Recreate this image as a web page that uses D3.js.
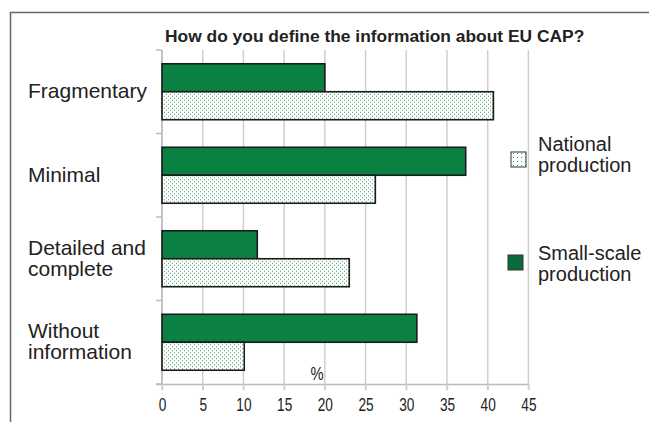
<!DOCTYPE html>
<html>
<head>
<meta charset="utf-8">
<script src="https://cdn.jsdelivr.net/npm/d3@7"></script>
<style>
  html, body { margin: 0; padding: 0; background: #fff; }
  text { font-family: Arial, "Liberation Sans", sans-serif; fill: #222; }
</style>
</head>
<body>
<svg id="chart" width="649" height="422"></svg>
<script>
const title = "How do you define the information about EU CAP?";
const categories = ["Fragmentary", "Minimal", "Detailed and complete", "Without information"];
const categoryLines = [["Fragmentary"], ["Minimal"], ["Detailed and", "complete"], ["Without", "information"]];
const seriesNames = ["Small-scale production", "National production"];
const smallScale = [20.0, 37.3, 11.7, 31.3];
const national = [40.7, 26.2, 23.0, 10.1];
const xTicks = [0, 5, 10, 15, 20, 25, 30, 35, 40, 45];
const axisUnit = "%";

const svg = d3.select("#chart");
const defs = svg.append("defs");
const pat = defs.append("pattern").attr("id", "dots").attr("patternUnits", "userSpaceOnUse")
  .attr("width", 4).attr("height", 4);
pat.append("rect").attr("width", 4).attr("height", 4).attr("fill", "#fff");
pat.append("rect").attr("x", 0).attr("y", 0).attr("width", 1).attr("height", 1).attr("fill", "#3a9d62");
pat.append("rect").attr("x", 2).attr("y", 2).attr("width", 1).attr("height", 1).attr("fill", "#3a9d62");

const pat2 = defs.append("pattern").attr("id", "dotsLegend").attr("patternUnits", "userSpaceOnUse")
  .attr("width", 4).attr("height", 4);
pat2.append("rect").attr("width", 4).attr("height", 4).attr("fill", "#fff");
pat2.append("rect").attr("x", 1).attr("y", 1).attr("width", 1).attr("height", 1).attr("fill", "#2e9a5a");

// outer frame (top and left only)
svg.append("path").attr("d", "M10.5,422 V12.5 H649").attr("fill", "none")
  .attr("stroke", "#666").attr("stroke-width", 1.5);

const pLeft = 162, pRight = 528.4, pTop = 50, pBottom = 384;
const x = d3.scaleLinear().domain([0, 45]).range([pLeft, pRight]);
const y = d3.scaleBand().domain(categories).range([pTop, pBottom]).paddingInner(0.33).paddingOuter(0.165);
const sub = d3.scaleBand().domain(seriesNames).range([0, y.bandwidth()]);

// gridlines
svg.append("g").selectAll("line").data(xTicks).join("line")
  .attr("x1", d => x(d)).attr("x2", d => x(d))
  .attr("y1", pTop).attr("y2", pBottom + 6)
  .attr("stroke", "#cfcfcf").attr("stroke-width", 1.5);

// y axis line + band ticks
svg.append("line").attr("x1", pLeft).attr("x2", pLeft).attr("y1", pTop).attr("y2", pBottom)
  .attr("stroke", "#bbb").attr("stroke-width", 1.5);
const step = (pBottom - pTop) / categories.length;
const bounds = categories.map((c, i) => pTop + i * step).concat([pBottom]);
svg.append("g").selectAll("line").data(bounds).join("line")
  .attr("x1", pLeft - 6).attr("x2", pLeft).attr("y1", d => d).attr("y2", d => d)
  .attr("stroke", "#bbb").attr("stroke-width", 1.5);

// x axis
const xAxis = svg.append("g").attr("transform", `translate(0,${pBottom})`)
  .call(d3.axisBottom(x).tickValues(xTicks).tickSize(6).tickPadding(9).tickFormat(d3.format("d")));
xAxis.select(".domain").attr("stroke", "#bbb").attr("stroke-width", 1.5).attr("d", `M${pLeft - 6},0.5H${pRight + 1}`);
xAxis.selectAll(".tick line").attr("stroke", "#cfcfcf").attr("stroke-width", 1.5);
xAxis.selectAll(".tick text").attr("font-size", 17.5).attr("fill", "#333")
  .attr("transform", "scale(0.78,1)").attr("font-family", "Arial, 'Liberation Sans', sans-serif");

// bars
const rows = categories.map((c, i) => ({c, vals: [smallScale[i], national[i]]}));
const groups = svg.append("g").selectAll("g").data(rows).join("g")
  .attr("transform", d => `translate(0,${y(d.c)})`);
groups.selectAll("rect").data(d => d.vals.map((v, j) => ({v, s: seriesNames[j]}))).join("rect")
  .attr("x", x(0)).attr("y", d => sub(d.s))
  .attr("width", d => x(d.v) - x(0)).attr("height", sub.bandwidth())
  .attr("fill", d => d.s === seriesNames[0] ? "#0b8043" : "url(#dots)")
  .attr("stroke", "#1c1c1c").attr("stroke-width", 1.6);

// category labels
categoryLines.forEach((lines, i) => {
  const cy = y(categories[i]) + y.bandwidth() / 2;
  const lh = 21;
  const t = svg.append("text").attr("font-size", 21).attr("x", 28);
  lines.forEach((l, k) => {
    t.append("tspan").attr("x", 28)
      .attr("y", cy + (k - (lines.length - 1) / 2) * lh + 6.5)
      .text(l);
  });
});

// title
svg.append("text").attr("x", 165).attr("y", 42).attr("font-size", 17.4).attr("font-weight", "bold")
  .attr("fill", "#111").text(title);

// unit label
svg.append("text").attr("x", 317).attr("y", 380).attr("text-anchor", "middle")
  .attr("font-size", 18).attr("transform", "translate(317,0) scale(0.82,1) translate(-317,0)")
  .attr("fill", "#333").text(axisUnit);

// legend
const legendItems = [
  {name: seriesNames[1], lines: ["National", "production"], fill: "url(#dotsLegend)", by: 152, ty: 150.5},
  {name: seriesNames[0], lines: ["Small-scale", "production"], fill: "#0b6b3a", by: 255, ty: 259.5}
];
legendItems.forEach(it => {
  svg.append("rect").attr("x", it.name === seriesNames[1] ? 511 : 508).attr("y", it.by)
    .attr("width", 15).attr("height", 15).attr("fill", it.fill)
    .attr("stroke", "#333").attr("stroke-width", 1);
  const t = svg.append("text").attr("font-size", 20).attr("x", 538);
  it.lines.forEach((l, k) => t.append("tspan").attr("x", 538).attr("y", it.ty + k * 21).text(l));
});
</script>
</body>
</html>
